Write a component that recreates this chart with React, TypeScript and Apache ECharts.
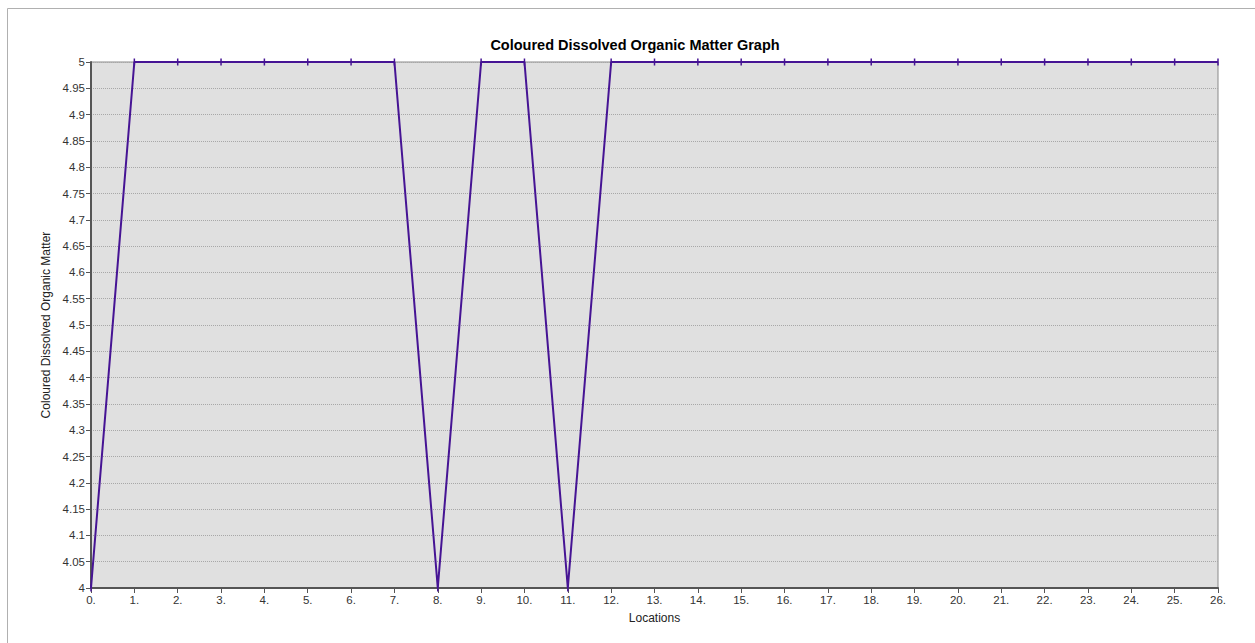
import React, { useEffect, useRef } from "react";
import * as echarts from "echarts";

const locations = [0, 1, 2, 3, 4, 5, 6, 7, 8, 9, 10, 11, 12, 13, 14, 15, 16, 17, 18, 19, 20, 21, 22, 23, 24, 25, 26];
const cdomValues = [4, 5, 5, 5, 5, 5, 5, 5, 4, 5, 5, 4, 5, 5, 5, 5, 5, 5, 5, 5, 5, 5, 5, 5, 5, 5, 5];
const titleText = "Coloured Dissolved Organic Matter Graph";
const yAxisName = "Coloured Dissolved Organic Matter";
const xAxisName = "Locations";

export default function App() {
  const ref = useRef<HTMLDivElement>(null);
  useEffect(() => {
    if (!ref.current) return;
    const chart = echarts.init(ref.current, null, { renderer: "svg" });
    const font = "Liberation Sans, Arial, sans-serif";
    chart.setOption({
      animation: false,
      backgroundColor: "#ffffff",
      textStyle: { fontFamily: font },
      title: {
        text: titleText,
        left: 630,
        top: 32,
        textAlign: "center",
        textStyle: { fontSize: 14.5, fontWeight: "bold", color: "#000", fontFamily: font },
      },
      graphic: [
        {
          type: "rect",
          shape: { x: 7.5, y: 8.5, width: 1300, height: 700 },
          style: { fill: "none", stroke: "#b0b0b0", lineWidth: 1 },
          silent: true,
        },
      ],
      grid: {
        left: 91,
        right: 37,
        top: 62,
        bottom: 55,
        show: true,
        backgroundColor: "#e0e0e0",
        borderColor: "#8a8a8a",
        borderWidth: 1,
      },
      xAxis: {
        type: "value",
        min: 0,
        max: 26,
        interval: 1,
        name: xAxisName,
        nameLocation: "middle",
        nameGap: 24,
        nameTextStyle: { fontSize: 12, color: "#222", fontFamily: font },
        axisLine: { show: true, onZero: false, lineStyle: { color: "#555", width: 2 } },
        axisTick: { show: true, length: 5, lineStyle: { color: "#555" } },
        axisLabel: {
          fontSize: 11.5,
          color: "#333",
          margin: 6,
          formatter: (v: number) => v + ".",
          fontFamily: font,
        },
        splitLine: { show: false },
      },
      yAxis: {
        type: "value",
        min: 4,
        max: 5,
        interval: 0.05,
        name: yAxisName,
        nameLocation: "middle",
        nameGap: 39,
        nameTextStyle: { fontSize: 12, color: "#222", fontFamily: font },
        axisLine: { show: true, lineStyle: { color: "#555", width: 2 } },
        axisTick: { show: true, length: 5, lineStyle: { color: "#555" } },
        axisLabel: {
          fontSize: 11.5,
          color: "#333",
          margin: 6,
          fontFamily: font,
          formatter: (v: number) => String(Math.round(v * 100) / 100),
        },
        splitLine: { show: true, lineStyle: { color: "#a8a8a8", type: [1, 1], width: 1 } },
      },
      series: [
        {
          type: "line",
          data: locations.map((x, i) => [x, cdomValues[i]]),
          symbol: "rect",
          symbolSize: [1.5, 7],
          showSymbol: true,
          itemStyle: { color: "#461494" },
          lineStyle: { color: "#461494", width: 2 },
          clip: false,
        },
      ],
    });
    return () => chart.dispose();
  }, []);
  return <div ref={ref} style={{ position: "absolute", left: 0, top: 0, width: 1255, height: 643 }} />;
}
